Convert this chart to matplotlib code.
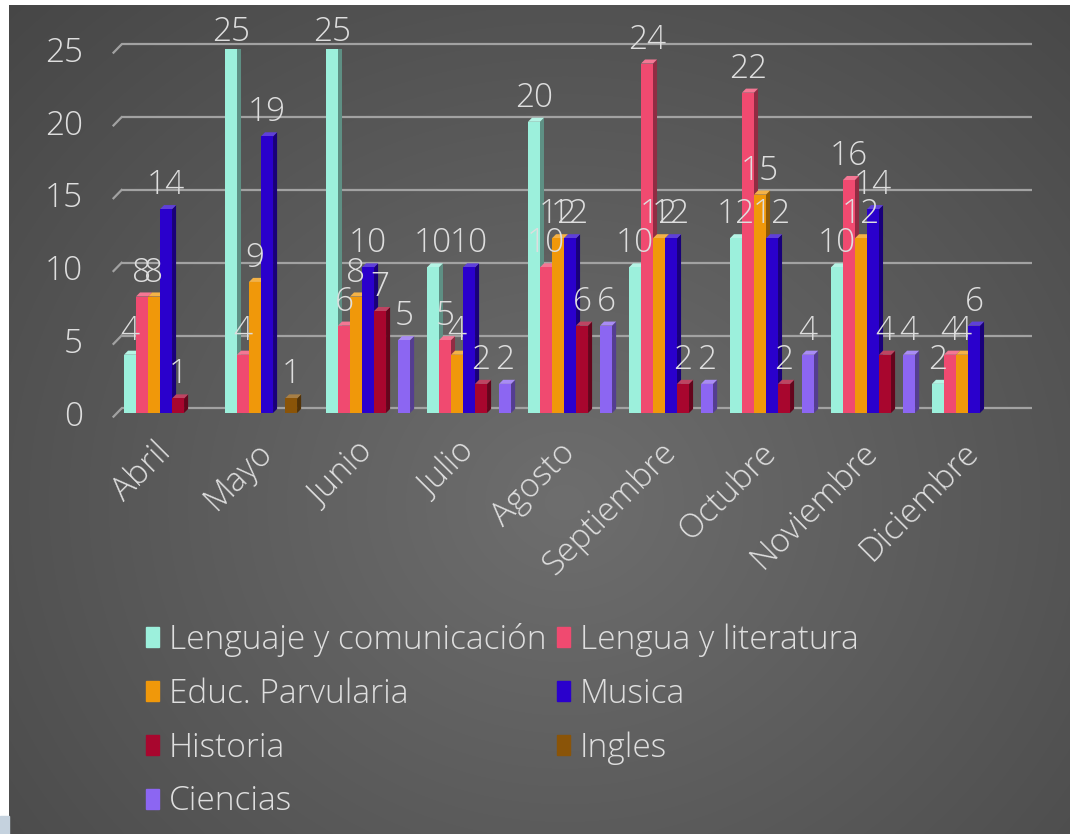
import numpy as np
import matplotlib
matplotlib.use('Agg')
import matplotlib.pyplot as plt
from matplotlib.patches import Rectangle
from matplotlib.colors import to_rgb

# ---------------- data ----------------
months = ['Abril', 'Mayo', 'Junio', 'Julio', 'Agosto', 'Septiembre',
          'Octubre', 'Noviembre', 'Diciembre']
series_names = ['Lenguaje y comunicación', 'Lengua y literatura',
                'Educ. Parvularia', 'Musica', 'Historia', 'Ingles', 'Ciencias']
lenguaje = [4, 25, 25, 10, 20, 10, 12, 10, 2]
lengua = [8, 4, 6, 5, 10, 24, 22, 16, 4]
educ = [8, 9, 8, 4, 12, 12, 15, 12, 4]
musica = [14, 19, 10, 10, 12, 12, 12, 14, 6]
historia = [1, None, 7, 2, 6, 2, 2, 4, None]
ingles = [None, 1, None, None, None, None, None, None, None]
ciencias = [None, None, 5, 2, 6, 2, 4, 4, None]
y_ticks = [0, 5, 10, 15, 20, 25]

all_series = [lenguaje, lengua, educ, musica, historia, ingles, ciencias]
colors = ['#9cf0dc', '#f04a70', '#f0980a', '#2a00cc', '#a8062e', '#8a5408', '#8c66f2']

FONT = ['Open Sans', 'DejaVu Sans']
plt.rcParams['font.family'] = FONT
plt.rcParams['font.weight'] = 'light'
TXT = '#dedede'
FS = 24

W, H = 1070, 834
fig = plt.figure(figsize=(W / 100, H / 100), dpi=100, facecolor='white')

# ---------------- background (radial gradient) ----------------
bg = fig.add_axes([9 / W, 0, 1 - 9 / W, 1 - 5 / H], zorder=-10)
yy, xx = np.mgrid[0:H, 0:W]
d = np.sqrt(((xx - 560) / 560.0) ** 2 + ((yy - 500) / 500.0) ** 2)
v = np.clip(110 - 28 * d, 68, 255) / 255.0
img = np.dstack([v, v, v])
bg.imshow(img, aspect='auto', extent=[0, 1, 0, 1], interpolation='bilinear')
bg.set_axis_off()
fig.patches.append(Rectangle((0, 0), 9 / W, 18 / H, transform=fig.transFigure,
                             color='#c5d2de', zorder=-5))

# ---------------- main axes ----------------
left_px, right_px = 112, 1035
top_px, zero_px = 49, 413
ax = fig.add_axes([left_px / W, (H - zero_px) / H,
                   (right_px - left_px) / W, (zero_px - top_px) / H])
ax.set_facecolor('none')
ax.set_xlim(-0.535, 8.604)
ax.set_ylim(0, 25)
for s in ax.spines.values():
    s.set_visible(False)

bw = 0.119
dx, dy = 0.04, 0.28

# gridlines with a little 3D wall edge
for t in y_ticks:
    ax.plot([-0.44, 8.57], [t + 0.32, t + 0.32], color='#a2a2a2', lw=1.6,
            zorder=1, clip_on=False, solid_capstyle='butt')
    ax.plot([-0.52, -0.44], [t - 0.25, t + 0.32], color='#a2a2a2', lw=1.6,
            zorder=1, clip_on=False)


def shade(c, f):
    r, g, b = to_rgb(c)
    if f < 1:
        return (r * f, g * f, b * f)
    return (r + (1 - r) * (f - 1), g + (1 - g) * (f - 1), b + (1 - b) * (f - 1))


x0 = np.arange(len(months))
for k, (vals, c) in enumerate(zip(all_series, colors)):
    for i, val in enumerate(vals):
        if val is None:
            continue
        x = x0[i] + (k - 3) * bw
        ax.bar(x, val, width=bw, color=c, edgecolor='none', zorder=3)
        xr = x + bw / 2
        xl = x - bw / 2
        ax.fill([xr, xr + dx, xr + dx, xr], [0, dy, val + dy, val],
                color=shade(c, 0.6), lw=0, zorder=2)
        ax.fill([xl, xl + dx, xr + dx, xr], [val, val + dy, val + dy, val],
                color=shade(c, 1.25), lw=0, zorder=2)
        off = 5 if val < 25 else 0
        ax.annotate(str(val), (x, val), xytext=(0, off), textcoords='offset points',
                    ha='center', va='bottom', fontsize=FS, color=TXT, zorder=5,
                    annotation_clip=False)

ax.set_yticks(y_ticks)
ax.set_yticklabels([str(t) for t in y_ticks])
ax.tick_params(axis='y', length=0, pad=21, labelsize=FS, labelcolor=TXT)
ax.set_xticks(x0)
ax.set_xticklabels(months, rotation=45, ha='right', va='center',
                   rotation_mode='anchor')
ax.tick_params(axis='x', length=0, pad=25, labelsize=FS, labelcolor=TXT)

# ---------------- legend ----------------
handles = [Rectangle((0, 0), 1, 1, color=c) for c in colors]
order = [0, 2, 4, 6, 1, 3, 5]
leg = fig.legend([handles[i] for i in order], [series_names[i] for i in order],
                 ncol=2, loc='upper left', bbox_to_anchor=(146 / W, 1 - 623 / H),
                 frameon=False, fontsize=FS, labelcolor=TXT,
                 handlelength=0.39, handleheight=0.54, handletextpad=0.3,
                 columnspacing=0.3, labelspacing=0.61, borderaxespad=0,
                 borderpad=0)

fig.savefig('out.png', dpi=100, facecolor=fig.get_facecolor())
